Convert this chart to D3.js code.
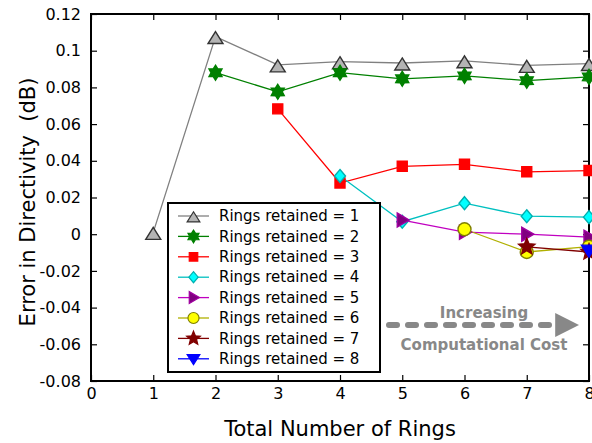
<!DOCTYPE html>
<html lang="en">
<meta charset="utf-8">
<head>
    <script src="https://d3js.org/d3.v7.min.js"></script>
    <style>
        body { margin: 0; background: #fff; }
        text { font-family: "DejaVu Sans", Verdana, sans-serif; }
    </style>
</head>
<body>
<script>

// data
var rings = [1, 2, 3, 4, 5, 6, 7, 8]
var retained1 = [0.001, 0.1077, 0.0923, 0.094, 0.0933, 0.0945, 0.092, 0.093]
var retained2 = [null, 0.088, 0.0776, 0.088, 0.0847, 0.0863, 0.0837, 0.0857]
var retained3 = [null, null, 0.0683, 0.0279, 0.037, 0.0381, 0.034, 0.0347]
var retained4 = [null, null, null, 0.0317, 0.0068, 0.0169, 0.0098, 0.0093]
var retained5 = [null, null, null, null, 0.0077, 0.0011, 0, -0.0016]
var retained6 = [null, null, null, null, null, 0.0027, -0.0097, -0.0068]
var retained7 = [null, null, null, null, null, null, -0.0069, -0.0097]
var retained8 = [null, null, null, null, null, null, null, -0.0087]
var seriesNames = ["Rings retained = 1", "Rings retained = 2", "Rings retained = 3", "Rings retained = 4",
    "Rings retained = 5", "Rings retained = 6", "Rings retained = 7", "Rings retained = 8"]
var xTicks = [0, 1, 2, 3, 4, 5, 6, 7, 8]
var yTicks = [-0.08, -0.06, -0.04, -0.02, 0, 0.02, 0.04, 0.06, 0.08, 0.1, 0.12]

var allSeries = [retained1, retained2, retained3, retained4, retained5, retained6, retained7, retained8]

// look of each series: line colour, marker fill, marker stroke, marker shape
var styles = [
    {line: "#808080", fill: "#b4b4b4", stroke: "#333333", shape: "tri"},
    {line: "#008000", fill: "#008000", stroke: "#008000", shape: "star6"},
    {line: "#ff0000", fill: "#ff0000", stroke: "#ff0000", shape: "square"},
    {line: "#00c0c0", fill: "#00ffff", stroke: "#00b0b0", shape: "diamond"},
    {line: "#c000c0", fill: "#800080", stroke: "#a000a0", shape: "triright"},
    {line: "#b0b000", fill: "#ffff00", stroke: "#808000", shape: "circle"},
    {line: "#800000", fill: "#800000", stroke: "#800000", shape: "star5"},
    {line: "#0000ff", fill: "#0000ff", stroke: "#0000ff", shape: "tridown"}
]

var width = 592, height = 443
var plotLeft = 91, plotRight = 589, plotTop = 14, plotBottom = 381

var svg = d3.select("body").append("svg")
    .attr("width", width)
    .attr("height", height)

var x = d3.scaleLinear().domain([0, 8]).range([plotLeft, plotRight])
var y = d3.scaleLinear().domain([-0.08, 0.12]).range([plotBottom, plotTop])

function fmt(d) { return String(+d.toFixed(2)) }

// axes with inward ticks
var xAxis = svg.append("g")
    .attr("transform", "translate(0," + plotBottom + ")")
    .call(d3.axisBottom(x).tickValues(xTicks).tickSize(-6).tickPadding(10).tickFormat(d3.format("d")))
var xTop = svg.append("g")
    .attr("transform", "translate(0," + plotTop + ")")
    .call(d3.axisTop(x).tickValues(xTicks).tickSize(-6).tickFormat(""))
var yAxis = svg.append("g")
    .attr("transform", "translate(" + plotLeft + ",0)")
    .call(d3.axisLeft(y).tickValues(yTicks).tickSize(-6).tickPadding(10).tickFormat(fmt))
var yRight = svg.append("g")
    .attr("transform", "translate(" + plotRight + ",0)")
    .call(d3.axisRight(y).tickValues(yTicks).tickSize(-6).tickFormat(""))

svg.selectAll(".domain").remove()
svg.selectAll(".tick line").attr("stroke", "#000").attr("stroke-width", 1.2)
svg.selectAll(".tick text")
    .attr("font-size", 16)
    .attr("fill", "#000")
    .style("font-family", "DejaVu Sans")
xAxis.selectAll(".tick text").attr("dy", "0.5em")

// frame
svg.append("rect")
    .attr("x", plotLeft)
    .attr("y", plotTop)
    .attr("width", plotRight - plotLeft)
    .attr("height", plotBottom - plotTop)
    .attr("fill", "none")
    .attr("stroke", "#000")
    .attr("stroke-width", 2)

// marker drawing
function starPath(n, r1, r2) {
    var pts = []
    for (var i = 0; i < 2 * n; i++) {
        var a = -Math.PI / 2 + i * Math.PI / n
        var r = i % 2 == 0 ? r1 : r2
        pts.push([r * Math.cos(a), r * Math.sin(a)])
    }
    return "M" + pts.map(function(p) { return p[0].toFixed(2) + "," + p[1].toFixed(2) }).join("L") + "Z"
}

function markerPath(shape) {
    switch (shape) {
        case "tri": return "M0,-5L7.5,7L-7.5,7Z"
        case "tridown": return "M0,7L7.5,-5L-7.5,-5Z"
        case "triright": return "M7,0L-5,-7L-5,7Z"
        case "square": return "M-5,-5H5V5H-5Z"
        case "diamond": return "M0,-6.5L5.5,0L0,6.5L-5.5,0Z"
        case "circle": return "M6.5,0A6.5,6.5 0 1,1 -6.5,0A6.5,6.5 0 1,1 6.5,0Z"
        case "star6": return starPath(6, 7.5, 4.5)
        case "star5": return starPath(5, 8.5, 3.8)
    }
}

var line = d3.line()
    .defined(function(d) { return d.v !== null })
    .x(function(d) { return x(d.r) })
    .y(function(d) { return y(d.v) })

allSeries.forEach(function(values, i) {
    var st = styles[i]
    var pts = rings.map(function(r, j) { return {r: r, v: values[j]} })
    svg.append("path")
        .datum(pts)
        .attr("fill", "none")
        .attr("stroke", st.line)
        .attr("stroke-width", 1.3)
        .attr("d", line)
})

allSeries.forEach(function(values, i) {
    var st = styles[i]
    var pts = rings.map(function(r, j) { return {r: r, v: values[j]} })
        .filter(function(d) { return d.v !== null })
    svg.append("g").selectAll("path")
        .data(pts)
        .enter().append("path")
        .attr("transform", function(d) { return "translate(" + x(d.r) + "," + y(d.v) + ")" })
        .attr("d", markerPath(st.shape))
        .attr("fill", st.fill)
        .attr("stroke", st.stroke)
        .attr("stroke-width", 1.4)
})

// legend
var legend = svg.append("g")
legend.append("rect")
    .attr("x", 168)
    .attr("y", 203)
    .attr("width", 212)
    .attr("height", 169)
    .attr("fill", "#fff")
    .attr("stroke", "#000")
    .attr("stroke-width", 2)

seriesNames.forEach(function(name, i) {
    var st = styles[i]
    var ly = 216 + i * 20.4
    legend.append("line")
        .attr("x1", 178).attr("x2", 209)
        .attr("y1", ly).attr("y2", ly)
        .attr("stroke", st.line)
        .attr("stroke-width", 1.3)
    legend.append("path")
        .attr("transform", "translate(193.5," + ly + ") scale(0.85)")
        .attr("d", markerPath(st.shape))
        .attr("fill", st.fill)
        .attr("stroke", st.stroke)
        .attr("stroke-width", 1.4)
    legend.append("text")
        .attr("x", 219)
        .attr("y", ly)
        .attr("dy", "0.35em")
        .attr("font-size", 15)
        .text(name)
})

// annotation arrow
svg.append("defs").append("marker")
    .attr("id", "head")
    .attr("viewBox", "0 0 10 10")
    .attr("refX", 2)
    .attr("refY", 5)
    .attr("markerWidth", 4)
    .attr("markerHeight", 4)
    .attr("orient", "auto")
    .attr("markerUnits", "strokeWidth")
    .append("path")
    .attr("d", "M0,0L10,5L0,10Z")
    .attr("fill", "#888")

svg.append("line")
    .attr("x1", 389).attr("x2", 560)
    .attr("y1", 325).attr("y2", 325)
    .attr("stroke", "#888")
    .attr("stroke-width", 6)
    .attr("stroke-linecap", "round")
    .attr("stroke-dasharray", "8,11")
    .attr("marker-end", "url(#head)")

svg.append("text")
    .attr("x", 484).attr("y", 318)
    .attr("text-anchor", "middle")
    .attr("font-size", 15)
    .attr("font-weight", "bold")
    .attr("fill", "#888")
    .text("Increasing")
svg.append("text")
    .attr("x", 484).attr("y", 350)
    .attr("text-anchor", "middle")
    .attr("font-size", 15)
    .attr("font-weight", "bold")
    .attr("fill", "#888")
    .text("Computational Cost")

// axis titles
svg.append("text")
    .attr("x", 340).attr("y", 436)
    .attr("text-anchor", "middle")
    .attr("font-size", 21)
    .text("Total Number of Rings")

svg.append("text")
    .attr("transform", "translate(35,202) rotate(-90)")
    .attr("text-anchor", "middle")
    .attr("font-size", 21)
    .style("white-space", "pre")
    .text("Error in Directivity  (dB)")

</script>
</body>
</html>
